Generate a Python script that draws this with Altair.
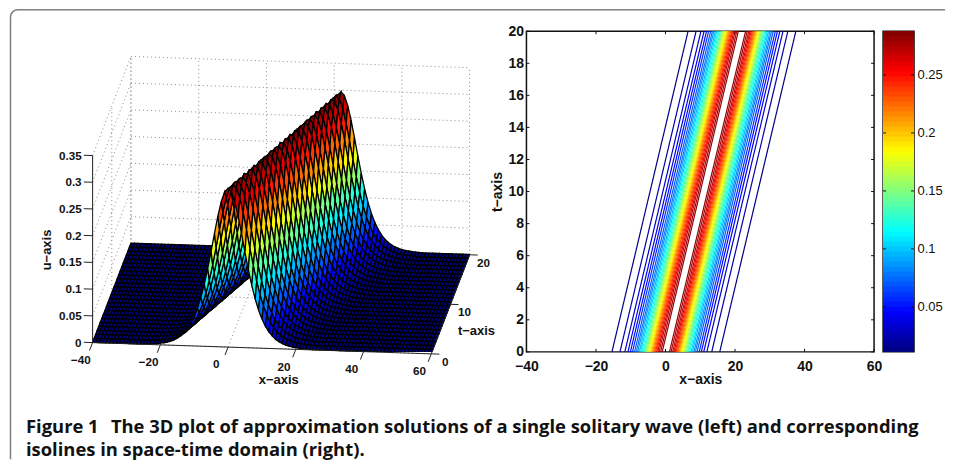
import altair as alt
import numpy as np
import pandas as pd

# ---- values -----------------------------------------------------------------
# wave height against distance from the crest, one value per quarter x-unit
profile_u = [
    .2970,.2966,.2954,.2933,.2905,.2869,.2826,.2777,.2721,.2660,.2593,.2522,.2447,.2370,.2289,.2206,
    .2122,.2038,.1953,.1867,.1783,.1700,.1618,.1538,.1459,.1382,.1308,.1237,.1167,.1101,.1037,.0977,
    .0918,.0863,.0810,.0760,.0713,.0668,.0625,.0585,.0548,.0511,.0478,.0446,.0417,.0389,.0363,.0338,
    .0316,.0294,.0274,.0256,.0238,.0222,.0206,.0192,.0179,.0166,.0155,.0144,.0134,.0124,.0115,.0107,
    .0100,.0093,.0087,.0081,.0075,.0069,.0065,.0060,.0055,.0052,.0048,.0045,.0041,.0039,.0036,.0033,
    .0031,.0029,.0027,.0025,.0023,.0021,.0020,.0018,.0017,.0016,.0014,.0013,.0012,.0011,.0010,.0009,
    .0009,.0008,.0008,.0007,.0006,
]
surf_x = list(range(-40, 61))
surf_t = [0, .8, 1.6, 2.4, 3.2, 4, 4.8, 5.6, 6.4, 7.2, 8, 8.8, 9.6, 10.4, 11.2, 12, 12.8, 13.6, 14.4, 15.2, 16, 16.8, 17.6, 18.4, 19.2, 20]
crest_speed = 1.1

# isoline levels and their half-width around the crest in x-units
iso_levels = [.0112,.0207,.0302,.0397,.0492,.0587,.0682,.0777,.0872,.0967,.1062,.1157,.1252,.1347,.1442,
              .1537,.1632,.1727,.1822,.1917,.2012,.2107,.2202,.2297,.2392,.2487,.2582,.2677,.2772,.2830]
iso_half = [15.5,13.2,11.8,10.9,10.2,9.6,9.0,8.5,8.1,7.65,7.27,6.9,6.55,6.22,5.9,
            5.6,5.3,5.0,4.71,4.42,4.13,3.85,3.55,3.26,2.97,2.66,2.32,1.95,1.5,1.05]
iso_center_t0 = 0.1
iso_center_t20 = 22.0

u_ticks = [0, .05, .1, .15, .2, .25, .3, .35]
u_tick_text = ["0", "0.05", "0.1", "0.15", "0.2", "0.25", "0.3", "0.35"]
x3_ticks = [-40, -20, 0, 20, 40, 60]
t3_ticks = [0, 10, 20]
right_x_ticks = [-40, -20, 0, 20, 40, 60]
right_t_ticks = [0, 2, 4, 6, 8, 10, 12, 14, 16, 18, 20]
cbar_ticks = [.05, .1, .15, .2, .25]
cbar_lo, cbar_hi = 0.0112, 0.2877
surf_max = 0.297

caption_head = "Figure 1"
caption_one = "The 3D plot of approximation solutions of a single solitary wave (left) and corresponding"
caption_two = "isolines in space-time domain (right)."

# ---- look -------------------------------------------------------------------
AXIS_FONT = "Liberation Sans"
CAPTION_FONT = "Open Sans"
INK = "#111111"
W1, H = 500, 321
OX, OY = 8, 31   # where the left panel's origin lands on the page


def jet(v):
    r = np.clip(1.5 - abs(4 * v - 3), 0, 1)
    g = np.clip(1.5 - abs(4 * v - 2), 0, 1)
    b = np.clip(1.5 - abs(4 * v - 1), 0, 1)
    return "#%02x%02x%02x" % (int(r * 255), int(g * 255), int(b * 255))


jet64 = [jet((i + .5) / 64) for i in range(64)]


def proj(x, t, u):
    return (91.7 + 3.39 * (x + 40) + 1.92 * t,
            342.7 + .113 * (x + 40) - 4.96 * t - 535 * u)


def seg(a, b):
    p, q = proj(*a), proj(*b)
    return dict(px=p[0], py=p[1], px2=q[0], py2=q[1])


def height(x, t):
    n = int(round(abs(x - crest_speed * t) / .25))
    return profile_u[min(n, len(profile_u) - 1)]


# ---- surface cells, far to near --------------------------------------------
features = []
for j in range(len(surf_t) - 2, -1, -1):
    t0, t1 = surf_t[j], surf_t[j + 1]
    for i in range(len(surf_x) - 1):
        x0, x1 = surf_x[i], surf_x[i + 1]
        ring = [proj(x0, t0, height(x0, t0)), proj(x1, t0, height(x1, t0)),
                proj(x1, t1, height(x1, t1)), proj(x0, t1, height(x0, t1))]
        ring = [[round(a, 2), round(b, 2)] for a, b in ring]
        ring.append(ring[0])
        features.append({"type": "Feature", "properties": {"u": height(x0, t0)},
                         "geometry": {"type": "Polygon", "coordinates": [ring]}})

sx = alt.Scale(domain=[OX, OX + W1])
sy = alt.Scale(domain=[OY + H, OY])
X = alt.X("px:Q", scale=sx, axis=None)
Y = alt.Y("py:Q", scale=sy, axis=None)


def rules(rows, **mark):
    return alt.Chart(pd.DataFrame(rows)).mark_rule(**mark).encode(x=X, y=Y, x2="px2:Q", y2="py2:Q")


def texts(rows, **mark):
    return alt.Chart(pd.DataFrame(rows)).mark_text(**mark).encode(x=X, y=Y, text="s:N")


# dotted walls and floor
grid = []
for u in u_ticks:
    grid.append(seg((-40, 20, u), (60, 20, u)))
    grid.append(seg((-40, 0, u), (-40, 20, u)))
for x in x3_ticks:
    grid.append(seg((x, 20, 0), (x, 20, .35)))
    grid.append(seg((x, 0, 0), (x, 20, 0)))
for t in t3_ticks:
    grid.append(seg((-40, t, 0), (-40, t, .35)))
    grid.append(seg((-40, t, 0), (60, t, 0)))
grid_layer = rules(grid, stroke="#8c8c8c", strokeWidth=1, strokeDash=[1, 3])

surface = alt.Chart(alt.Data(values=features)).mark_geoshape(stroke="#000000", strokeWidth=1.3).encode(
    fill=alt.Fill("properties.u:Q", legend=None,
                  scale=alt.Scale(type="quantize", domain=[0, surf_max], range=jet64))
).project(type="identity", scale=1, translate=[-OX, -OY])

axes3 = [seg((-40, 0, 0), (-40, 0, .35)), seg((-40, 0, 0), (60, 0, 0)), seg((60, 0, 0), (60, 20, 0))]
axes3 += [seg((-40, 0, u), (-42.6, 0, u)) for u in u_ticks]
axes3 += [seg((x, 0, 0), (x, -1.6, 0)) for x in x3_ticks]
axes3 += [seg((60, t, 0), (62.4, t, 0)) for t in t3_ticks]
axes_layer = rules(axes3, stroke="#222222", strokeWidth=1)

font3 = dict(font=AXIS_FONT, fontWeight="bold", fontSize=11.7, color=INK)
u_lab = texts([dict(px=proj(-40, 0, u)[0] - 11, py=proj(-40, 0, u)[1], s=s) for u, s in zip(u_ticks, u_tick_text)],
              align="right", baseline="middle", **font3)
x_lab = texts([dict(px=proj(x, -3.5, 0)[0] - 5, py=proj(x, -3.5, 0)[1], s=str(x).replace("-", "\u2212")) for x in x3_ticks],
              align="center", baseline="middle", **font3)
t_lab = texts([dict(px=proj(60, t, 0)[0] + 14, py=proj(60, t, 0)[1] + 8, s=str(t)) for t in t3_ticks],
              align="center", baseline="middle", **font3)
title3 = dict(font=AXIS_FONT, fontWeight="bold", fontSize=13, color=INK, baseline="middle", align="center")
x_title = texts([dict(px=278, py=380, s="x\u2212axis")], **title3)
t_title = texts([dict(px=476, py=331, s="t\u2212axis")], **title3)
u_title = texts([dict(px=46, py=250, s="u\u2212axis")], angle=270, **title3)

# page frame
c = [(9.5, 459.5), (9.5, 17), (10, 14), (11.7, 11.7), (14, 10), (17, 9.5), (945, 9.5)]
frame = alt.Chart(pd.DataFrame({"px": [p[0] for p in c], "py": [p[1] for p in c], "o": range(len(c))})).mark_line(
    stroke="#7f7f7f", strokeWidth=1.5, strokeJoin="round").encode(x=X, y=Y, order="o:Q")

cap = dict(font=CAPTION_FONT, fontWeight="bold", fontSize=18.4, color="#111111", align="left", baseline="alphabetic")
cap1 = texts([dict(px=25, py=433, s=caption_head)], **cap)
cap2 = texts([dict(px=110, py=433, s=caption_one)], **cap)
cap3 = texts([dict(px=25, py=456.5, s=caption_two)], **cap)

left = alt.layer(frame, grid_layer, surface, axes_layer, u_lab, x_lab, t_lab, x_title, t_title, u_title,
                 cap1, cap2, cap3).properties(width=W1, height=H)

# ---- isolines ---------------------------------------------------------------
x_axis = alt.Axis(values=right_x_ticks, tickSize=0, domain=False, grid=False, labelFont=AXIS_FONT, labelFlush=False,
                  labelFontWeight="bold", labelFontSize=14, labelColor=INK, labelPadding=8, title="x\u2212axis",
                  titleFont=AXIS_FONT, titleFontWeight="bold", titleFontSize=14, titleColor=INK, titlePadding=-1)
t_axis = alt.Axis(values=right_t_ticks, tickSize=0, domain=False, grid=False, labelFont=AXIS_FONT, labelFlush=False,
                  labelFontWeight="bold", labelFontSize=14, labelColor=INK, labelPadding=3, title="t\u2212axis",
                  titleFont=AXIS_FONT, titleFontWeight="bold", titleFontSize=14, titleColor=INK, titlePadding=3)
x_scale = alt.Scale(domain=[-40, 60], nice=False)
t_scale = alt.Scale(domain=[0, 20], nice=False)

iso_rows = []
for lev, d in zip(iso_levels, iso_half):
    for sign in (-1, 1):
        iso_rows.append(dict(u=lev, x0=iso_center_t0 + sign * d, x1=iso_center_t20 + sign * d, t0=0, t1=20))
iso = alt.Chart(pd.DataFrame(iso_rows)).mark_rule(strokeWidth=1.2).encode(
    x=alt.X("x0:Q", scale=x_scale, axis=x_axis),
    x2="x1:Q",
    y=alt.Y("t0:Q", scale=t_scale, axis=t_axis),
    y2="t1:Q",
    color=alt.Color("u:Q", legend=None, scale=alt.Scale(type="quantize", domain=[cbar_lo, cbar_hi], range=jet64)),
)
xt = alt.Chart(pd.DataFrame({"x0": right_x_ticks}))
tt = alt.Chart(pd.DataFrame({"t0": right_t_ticks}))
xq = alt.X("x0:Q", scale=x_scale, axis=x_axis)
tq = alt.Y("t0:Q", scale=t_scale, axis=t_axis)
ticks = [
    xt.mark_rule(color=INK).encode(x=xq, y=alt.value(H), y2=alt.value(H - 3)),
    xt.mark_rule(color=INK).encode(x=xq, y=alt.value(0), y2=alt.value(3)),
    tt.mark_rule(color=INK).encode(y=tq, x=alt.value(0), x2=alt.value(3)),
    tt.mark_rule(color=INK).encode(y=tq, x=alt.value(348), x2=alt.value(345)),
]
right = alt.layer(iso, *ticks).properties(width=348, height=H, view=alt.ViewBackground(stroke=INK, strokeWidth=1.5))

# ---- colour bar (each band runs under the next one, so no seams show) -------
edges = np.linspace(cbar_lo, cbar_hi, 65)
bands = pd.DataFrame({"a": edges[:-1], "b": np.minimum(edges[1:] + (edges[1] - edges[0]), cbar_hi),
                      "m": (edges[:-1] + edges[1:]) / 2})
cbar_scale = alt.Scale(domain=[cbar_lo, cbar_hi], nice=False, zero=False)
cbar_axis = alt.Axis(orient="right", values=cbar_ticks, format="~g", tickSize=0, domain=False, grid=False, title=None,
                     labelFont=AXIS_FONT, labelFontSize=13, labelColor=INK, labelPadding=3)
bar = alt.Chart(bands).mark_rect().encode(
    y=alt.Y("a:Q", scale=cbar_scale, axis=cbar_axis),
    y2="b:Q",
    color=alt.Color("m:Q", legend=None, scale=alt.Scale(type="quantize", domain=[cbar_lo, cbar_hi], range=jet64)),
)
bt = alt.Chart(pd.DataFrame({"a": cbar_ticks}))
vq = alt.Y("a:Q", scale=cbar_scale, axis=cbar_axis)
cbar = alt.layer(
    bar,
    bt.mark_rule(color=INK).encode(y=vq, x=alt.value(0), x2=alt.value(3)),
    bt.mark_rule(color=INK).encode(y=vq, x=alt.value(31), x2=alt.value(28)),
).properties(width=31, height=H, view=alt.ViewBackground(stroke=INK, strokeWidth=1.5))

inner = alt.hconcat(right, cbar, spacing=9, bounds="flush")
chart = alt.hconcat(left, inner, spacing=18, bounds="flush").properties(
    padding={"left": 0, "top": 0, "right": 0, "bottom": 0}).configure_view(stroke="transparent")

chart.save("out.html", embed_options={"renderer": "svg", "actions": False})
